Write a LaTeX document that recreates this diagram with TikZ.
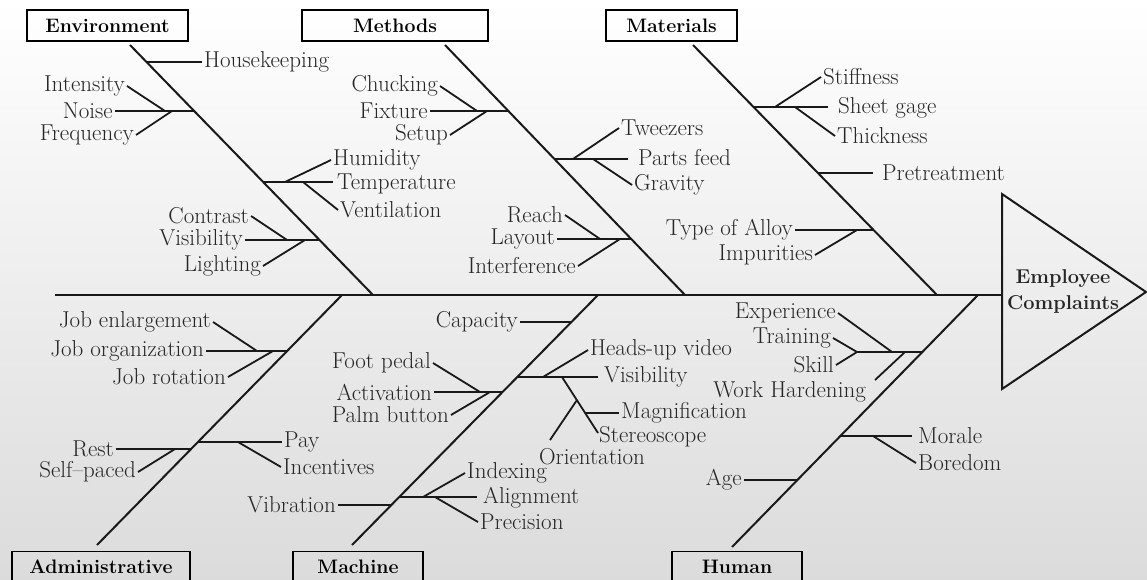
\documentclass[tikz,border=0pt]{standalone}
\usepackage{tikz}
\usetikzlibrary{positioning,calc}
\tikzset{
  fb/cat/.style={draw, line width=1.6pt, font=\fontsize{19.5}{22}\selectfont\bfseries, minimum height=31pt, inner sep=0pt},
  fb/bone/.style={line width=2pt, black!90},
  fb/twig/.style={line width=1.8pt, black!90},
  fb/lbl/.style={inner sep=2pt, text=black!85},
  fb/effect/.style={font=\fontsize{20}{26}\selectfont\bfseries, align=center, text=black!85}
}

\begin{document}
\begin{tikzpicture}[x=1pt, y=-1pt, font=\fontsize{23}{25}\selectfont]
  \shade[top color=white, bottom color=black!14] (0,0) rectangle (1147,580);
  \useasboundingbox (0,0) rectangle (1147,580);

  % head and spine
  \coordinate (tail) at (55,295);
  \coordinate (head) at (1002,295);
  \draw[fb/bone] (1002,194) -- (1146,292) -- (1002,389) -- cycle;
  \node[fb/effect] (effect) at (1063,291) {Employee\\Complaints};
  \draw[fb/bone] (tail) -- (head);

  % categories
  \node[fb/cat, minimum width=161pt] (env) at (107.5,25.5) {Environment};
  \node[fb/cat, minimum width=186pt] (meth) at (395,25.5) {Methods};
  \node[fb/cat, minimum width=131pt] (mat) at (671.5,25.5) {Materials};
  \node[fb/cat, minimum width=178pt] (adm) at (101,567) {Administrative};
  \node[fb/cat, minimum width=130pt] (mach) at (358,567) {Machine};
  \node[fb/cat, minimum width=130pt] (hum) at (737,567) {Human};

  \coordinate (env-s) at (373,295);  \draw[fb/bone] (130,45) -- (env-s);
  \coordinate (meth-s) at (685,295); \draw[fb/bone] (445,45) -- (meth-s);
  \coordinate (mat-s) at (937,295);  \draw[fb/bone] (693,45) -- (mat-s);
  \coordinate (adm-s) at (342,295);  \draw[fb/bone] (97,545) -- (adm-s);
  \coordinate (mach-s) at (598,295); \draw[fb/bone] (352,545) -- (mach-s);
  \coordinate (hum-s) at (978,295);  \draw[fb/bone] (732,547) -- (hum-s);

  % Environment
  \node[fb/lbl, anchor=west] (hk) at (202,62) {Housekeeping};
  \draw[fb/twig] (146.5,62) -- (hk.west);
  \node[fb/lbl, anchor=east] (noise) at (115,111) {Noise};
  \node[fb/lbl, anchor=east] (intens) at (127,86) {Intensity};
  \node[fb/lbl, anchor=east] (freq) at (136,135) {Frequency};
  \coordinate (noise-b) at (194,111);
  \draw[fb/twig] (noise-b) -- (noise.east);
  \draw[fb/twig] (intens.east) -- (165,111);
  \draw[fb/twig] (freq.east) -- (172,111);
  \node[fb/lbl, anchor=west] (temp) at (335,184) {Temperature};
  \node[fb/lbl, anchor=west] (humid) at (331,160) {Humidity};
  \node[fb/lbl, anchor=west] (vent) at (338,210) {Ventilation};
  \coordinate (temp-b) at (263,182);
  \draw[fb/twig] (temp-b) -- (333,182);
  \draw[fb/twig] (285,182) -- (humid.west);
  \draw[fb/twig] (303,182) -- (vent.west);
  \node[fb/lbl, anchor=east] (visib) at (245,240) {Visibility};
  \node[fb/lbl, anchor=east] (contr) at (251,216) {Contrast};
  \node[fb/lbl, anchor=east] (light) at (263,266) {Lighting};
  \coordinate (visib-b) at (319.5,240);
  \draw[fb/twig] (visib-b) -- (visib.east);
  \draw[fb/twig] (contr.east) -- (287,240);
  \draw[fb/twig] (light.east) -- (305,240);

  % Methods
  \node[fb/lbl, anchor=east] (fixt) at (430,111) {Fixture};
  \node[fb/lbl, anchor=east] (chuck) at (440,86) {Chucking};
  \node[fb/lbl, anchor=east] (setup) at (450,135) {Setup};
  \coordinate (fixt-b) at (508,111);
  \draw[fb/twig] (fixt-b) -- (fixt.east);
  \draw[fb/twig] (chuck.east) -- (477,111);
  \draw[fb/twig] (setup.east) -- (487,111);
  \node[fb/lbl, anchor=west] (parts) at (636,158) {Parts feed};
  \node[fb/lbl, anchor=west] (tweez) at (619,128) {Tweezers};
  \node[fb/lbl, anchor=west] (grav) at (632,185) {Gravity};
  \coordinate (parts-b) at (554,159);
  \draw[fb/twig] (parts-b) -- (628,159);
  \draw[fb/twig] (573,159) -- (tweez.west);
  \draw[fb/twig] (593,159) -- (grav.west);
  \node[fb/lbl, anchor=east] (layout) at (557,239) {Layout};
  \node[fb/lbl, anchor=east] (reach) at (565,215) {Reach};
  \node[fb/lbl, anchor=east] (interf) at (578,266) {Interference};
  \coordinate (layout-b) at (631,239);
  \draw[fb/twig] (layout-b) -- (layout.east);
  \draw[fb/twig] (reach.east) -- (600,239);
  \draw[fb/twig] (interf.east) -- (620,239);

  % Materials
  \node[fb/lbl, anchor=west] (sheet) at (836,108) {Sheet gage};
  \node[fb/lbl, anchor=west] (stiff) at (821,77) {Stiffness};
  \node[fb/lbl, anchor=west] (thick) at (835,136) {Thickness};
  \coordinate (sheet-b) at (753.5,107);
  \draw[fb/twig] (sheet-b) -- (828,107);
  \draw[fb/twig] (775,107) -- (stiff.west);
  \draw[fb/twig] (795,107) -- (thick.west);
  \node[fb/lbl, anchor=west] (pret) at (880,173) {Pretreatment};
  \draw[fb/twig] (818,173) -- (873,173);
  \node[fb/lbl, anchor=east] (alloy) at (795,230) {Type of Alloy};
  \node[fb/lbl, anchor=east] (impur) at (815,255) {Impurities};
  \coordinate (alloy-b) at (873.6,230);
  \draw[fb/twig] (alloy-b) -- (alloy.east);
  \draw[fb/twig] (impur.east) -- (857,230);

  % Administrative
  \node[fb/lbl, anchor=east] (jorg) at (206,351) {Job organization};
  \node[fb/lbl, anchor=east] (jenl) at (213,322) {Job enlargement};
  \node[fb/lbl, anchor=east] (jrot) at (228,377) {Job rotation};
  \coordinate (jorg-b) at (287,351);
  \draw[fb/twig] (jorg-b) -- (jorg.east);
  \draw[fb/twig] (jenl.east) -- (257,351);
  \draw[fb/twig] (jrot.east) -- (273,351);
  \node[fb/lbl, anchor=west] (pay) at (282,442) {Pay};
  \node[fb/lbl, anchor=west] (incent) at (281,467) {Incentives};
  \coordinate (pay-b) at (198,442);
  \draw[fb/twig] (pay-b) -- (pay.west);
  \draw[fb/twig] (238,442) -- (incent.west);
  \node[fb/lbl, anchor=east] (rest) at (116,449) {Rest};
  \node[fb/lbl, anchor=east] (selfp) at (138,472) {Self--paced};
  \coordinate (rest-b) at (191,449);
  \draw[fb/twig] (rest-b) -- (rest.east);
  \draw[fb/twig] (selfp.east) -- (175,449);

  % Machine
  \node[fb/lbl, anchor=east] (capac) at (520,322) {Capacity};
  \draw[fb/twig] (571.4,322) -- (capac.east);
  \node[fb/lbl, anchor=east] (activ) at (434,392) {Activation};
  \node[fb/lbl, anchor=east] (foot) at (433,363) {Foot pedal};
  \node[fb/lbl, anchor=east] (palm) at (451,415) {Palm button};
  \coordinate (activ-b) at (502.6,392);
  \draw[fb/twig] (activ-b) -- (activ.east);
  \draw[fb/twig] (foot.east) -- (480,392);
  \draw[fb/twig] (palm.east) -- (490,392);
  \node[fb/lbl, anchor=west] (visi2) at (602,377) {Visibility};
  \node[fb/lbl, anchor=west] (heads) at (588,350) {Heads-up video};
  \coordinate (visi2-b) at (517.3,377);
  \draw[fb/twig] (visi2-b) -- (598,377);
  \draw[fb/twig] (543,377) -- (heads.west);
  \coordinate (stereo-a) at (562,377);
  \coordinate (stereo-e) at (598,433);
  \node[fb/lbl, anchor=north west, inner sep=0pt] (stereo) at (599,426) {Stereoscope};
  \draw[fb/twig] (stereo-a) -- (stereo-e);
  \node[fb/lbl, anchor=west] (magn) at (619,413) {Magnification};
  \draw[fb/twig] (585,413) -- (magn.west);
  \node[fb/lbl] (orient) at (592,457) {Orientation};
  \draw[fb/twig] (577,400) -- (550,440);
  \node[fb/lbl, anchor=west] (align) at (481,498) {Alignment};
  \node[fb/lbl, anchor=west] (index) at (465,473) {Indexing};
  \node[fb/lbl, anchor=west] (precis) at (478,522) {Precision};
  \coordinate (align-b) at (399.2,497);
  \draw[fb/twig] (align-b) -- (477,497);
  \draw[fb/twig] (423,497) -- (index.west);
  \draw[fb/twig] (435,497) -- (precis.west);
  \node[fb/lbl, anchor=east] (vibr) at (338,505) {Vibration};
  \draw[fb/twig] (391.4,505) -- (vibr.east);

  % Human
  \node[fb/lbl, anchor=east] (exper) at (838,313) {Experience};
  \node[fb/lbl, anchor=east] (train) at (833,338) {Training};
  \node[fb/lbl, anchor=east] (skill) at (836,365) {Skill};
  \node[fb/lbl, anchor=east] (workh) at (868,392) {Work Hardening};
  \coordinate (exper-b) at (922.4,352);
  \coordinate (fork) at (857,352);
  \draw[fb/twig] (exper-b) -- (fork);
  \draw[fb/twig] (exper.east) -- (892,352);
  \draw[fb/twig] (train.east) -- (fork);
  \draw[fb/twig] (skill.east) -- (fork);
  \draw[fb/twig] (875,380) -- (905,352);
  \node[fb/lbl, anchor=west] (moral) at (916,436) {Morale};
  \node[fb/lbl, anchor=west] (bored) at (916,463) {Boredom};
  \coordinate (moral-b) at (840.4,436);
  \draw[fb/twig] (moral-b) -- (912,436);
  \draw[fb/twig] (873,436) -- (bored.west);
  \node[fb/lbl, anchor=east] (age) at (744,480) {Age};
  \draw[fb/twig] (797.4,480) -- (age.east);
\end{tikzpicture}
\end{document}
